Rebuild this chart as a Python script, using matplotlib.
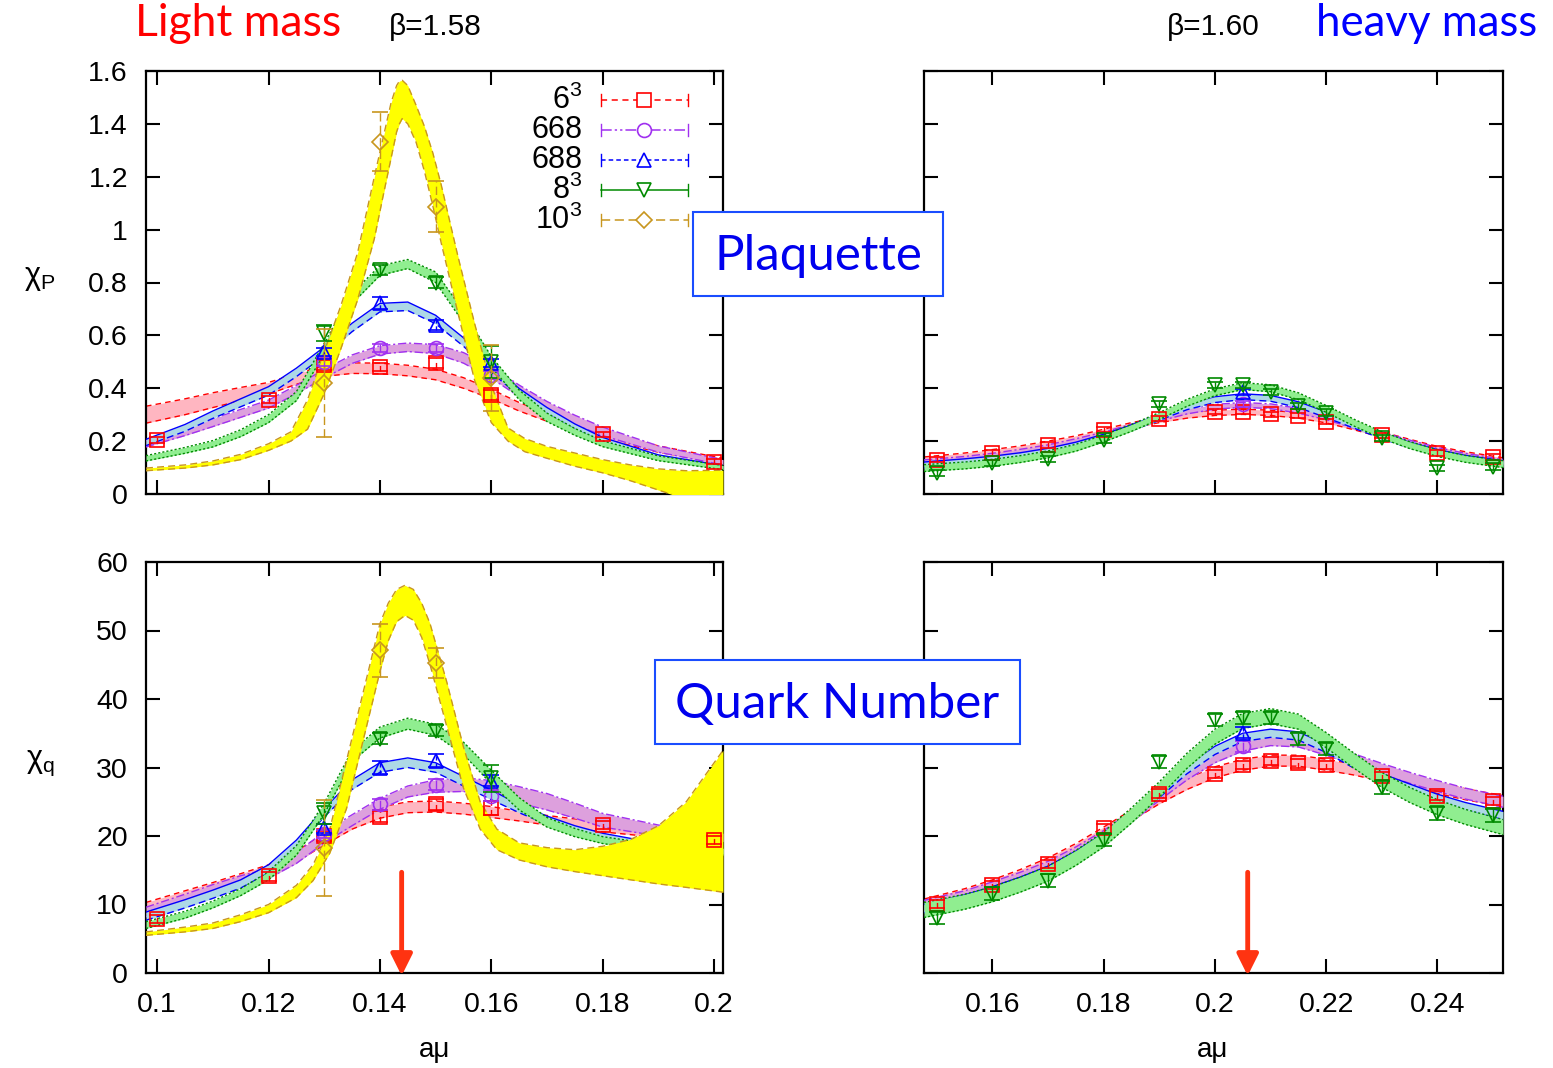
import numpy as np
import matplotlib
matplotlib.use('Agg')
import matplotlib.pyplot as plt
from matplotlib.patches import Rectangle
from matplotlib.ticker import FuncFormatter

plt.rcParams['font.family'] = ['Liberation Sans', 'DejaVu Sans']
plt.rcParams['mathtext.fontset'] = 'custom'
plt.rcParams['mathtext.rm'] = 'Liberation Sans'
plt.rcParams['mathtext.it'] = 'Liberation Sans:italic'
plt.rcParams['mathtext.default'] = 'regular'

# ---------------- data ----------------
series_labels = ['6$^3$', '668', '688', '8$^3$', '10$^3$']

# light mass (beta = 1.58) measured points
xL_all = [0.10, 0.12, 0.13, 0.14, 0.15, 0.16, 0.18, 0.20]
xL_mid = [0.13, 0.14, 0.15, 0.16]
P_L_6 = [0.204, 0.357, 0.488, 0.480, 0.495, 0.374, 0.226, 0.122]
P_L_6_err = [0.012, 0.012, 0.02, 0.015, 0.02, 0.02, 0.01, 0.01]
P_L_668 = [0.50, 0.552, 0.552, 0.45]
P_L_688 = [0.537, 0.722, 0.640, 0.495]
P_L_8 = [0.61, 0.847, 0.800, 0.500]
P_L_8_err = [0.03, 0.02, 0.02, 0.06]
P_L_10 = [0.42, 1.333, 1.087, 0.44]
P_L_10_err = [0.205, 0.113, 0.097, 0.125]

Q_L_6 = [7.9, 14.1, 20.0, 22.8, 24.6, 24.1, 21.6, 19.4]
Q_L_6_err = [0.6, 0.6, 0.8, 0.8, 0.8, 1.0, 0.6, 0.6]
Q_L_668 = [20.3, 24.6, 27.5, 25.9]
Q_L_688 = [21.1, 30.0, 31.0, 28.1]
Q_L_8 = [23.3, 34.2, 35.4, 28.4]
Q_L_8_err = [1.5, 0.8, 0.8, 2.0]
Q_L_10 = [18.2, 47.1, 45.2]
Q_L_10_x = [0.13, 0.14, 0.15]
Q_L_10_err = [7.0, 3.9, 2.2]

# heavy mass (beta = 1.60) measured points
xH_all = [0.15, 0.16, 0.17, 0.18, 0.19, 0.20, 0.205, 0.21, 0.215, 0.22, 0.23, 0.24, 0.25]
xH_one = [0.205]
P_H_6 = [0.130, 0.155, 0.185, 0.243, 0.285, 0.311, 0.311, 0.302, 0.296, 0.273, 0.222, 0.155, 0.140]
P_H_668 = [0.340]
P_H_688 = [0.387]
P_H_8 = [0.079, 0.117, 0.132, 0.206, 0.340, 0.413, 0.413, 0.385, 0.334, 0.308, 0.213, 0.098, 0.104]

Q_H_6 = [10.1, 12.8, 15.9, 21.1, 26.2, 29.1, 30.4, 31.0, 30.6, 30.4, 28.8, 25.9, 25.1]
Q_H_668 = [33.1]
Q_H_688 = [35.1]
Q_H_8 = [8.0, 11.6, 13.5, 19.4, 30.8, 36.9, 37.2, 37.2, 34.2, 32.7, 27.1, 23.3, 23.0]

# fit bands (centre / half-width)
bandL_x = [0.098, 0.105, 0.11, 0.115, 0.12, 0.125, 0.13, 0.135, 0.14, 0.145,
           0.15, 0.155, 0.16, 0.165, 0.17, 0.175, 0.18, 0.19, 0.2016]
bP_L_6 = [0.30, 0.33, 0.355, 0.378, 0.40, 0.435, 0.465, 0.476, 0.475, 0.467,
          0.452, 0.42, 0.378, 0.33, 0.29, 0.255, 0.222, 0.17, 0.125]
wP_L_6 = [0.032, 0.03, 0.028, 0.025, 0.022, 0.02, 0.02, 0.02, 0.02, 0.02,
          0.02, 0.02, 0.018, 0.016, 0.015, 0.014, 0.013, 0.012, 0.01]
bP_L_668 = [0.19, 0.235, 0.27, 0.305, 0.34, 0.395, 0.455, 0.51, 0.545, 0.555,
            0.548, 0.515, 0.46, 0.39, 0.33, 0.28, 0.237, 0.17, 0.12]
wP_L_668 = [0.012, 0.014, 0.015, 0.015, 0.015, 0.016, 0.016, 0.016, 0.016, 0.016,
            0.017, 0.02, 0.022, 0.022, 0.02, 0.018, 0.016, 0.012, 0.01]
bP_L_688 = [0.195, 0.25, 0.30, 0.345, 0.39, 0.46, 0.54, 0.63, 0.705, 0.71,
            0.66, 0.575, 0.475, 0.385, 0.315, 0.255, 0.205, 0.14, 0.10]
wP_L_688 = [0.012, 0.013, 0.014, 0.015, 0.016, 0.016, 0.016, 0.016, 0.016, 0.016,
            0.016, 0.016, 0.015, 0.014, 0.012, 0.01, 0.009, 0.008, 0.007]
bP_L_8 = [0.135, 0.165, 0.19, 0.23, 0.285, 0.37, 0.55, 0.74, 0.845, 0.87,
          0.82, 0.67, 0.50, 0.375, 0.29, 0.235, 0.19, 0.135, 0.10]
wP_L_8 = [0.01, 0.011, 0.012, 0.013, 0.015, 0.017, 0.02, 0.02, 0.018, 0.017,
          0.02, 0.022, 0.02, 0.018, 0.016, 0.013, 0.011, 0.009, 0.008]

yelL_x = [0.098, 0.105, 0.11, 0.115, 0.12, 0.124, 0.127, 0.130, 0.133, 0.136,
          0.139, 0.1405, 0.142, 0.143, 0.1435, 0.144, 0.145, 0.1465, 0.148,
          0.1495, 0.151, 0.154, 0.157, 0.16,
          0.163, 0.166, 0.17, 0.175, 0.18, 0.185, 0.19, 0.195, 0.2016]
yP_L_10_lo = [0.088, 0.098, 0.11, 0.13, 0.165, 0.20, 0.245, 0.38, 0.55, 0.735,
              0.966, 1.12, 1.27, 1.37, 1.40, 1.42, 1.40, 1.33, 1.22,
              1.09, 0.95, 0.685, 0.43, 0.27,
              0.20, 0.16, 0.135, 0.105, 0.08, 0.05, 0.015, -0.02, -0.07]
yP_L_10_hi = [0.098, 0.11, 0.125, 0.15, 0.19, 0.235, 0.356, 0.539, 0.713, 0.913,
              1.20, 1.34, 1.48, 1.545, 1.562, 1.565, 1.545, 1.47, 1.39,
              1.29, 1.17, 0.90, 0.645, 0.41,
              0.25, 0.21, 0.18, 0.155, 0.13, 0.11, 0.095, 0.088, 0.09]

bQ_L_6 = [9.5, 11.2, 12.4, 13.7, 15.0, 17.0, 19.5, 21.8, 23.4, 24.2,
          24.3, 24.0, 23.5, 22.9, 22.3, 21.8, 21.3, 20.5, 19.6]
wQ_L_6 = [0.8, 0.8, 0.8, 0.8, 0.8, 0.8, 0.8, 0.8, 0.8, 0.8,
          0.8, 0.8, 0.8, 0.7, 0.7, 0.7, 0.7, 0.7, 0.7]
bQ_L_668 = [8.9, 10.8, 12.2, 13.5, 14.5, 16.8, 19.8, 22.3, 24.7, 26.5,
            27.3, 27.5, 27.0, 26.0, 25.0, 23.7, 22.3, 20.8, 19.8]
wQ_L_668 = [0.7, 0.7, 0.7, 0.7, 0.7, 0.8, 0.8, 0.8, 0.8, 0.8,
            0.9, 1.0, 1.1, 1.2, 1.2, 1.1, 1.0, 0.8, 0.6]
bQ_L_688 = [8.3, 10.1, 11.5, 13.0, 15.2, 18.8, 23.4, 27.5, 30.0, 30.7,
            30.0, 28.0, 26.0, 24.0, 22.3, 21.0, 19.9, 18.5, 17.8]
wQ_L_688 = [0.6, 0.6, 0.6, 0.6, 0.6, 0.6, 0.6, 0.7, 0.7, 0.7,
            0.7, 0.7, 0.7, 0.6, 0.6, 0.5, 0.5, 0.4, 0.4]
bQ_L_8 = [7.0, 8.5, 10.0, 11.8, 14.2, 17.9, 24.0, 31.7, 35.1, 36.4,
          35.5, 32.8, 28.6, 24.7, 22.0, 20.5, 19.4, 18.2, 17.7]
wQ_L_8 = [0.5, 0.5, 0.5, 0.5, 0.6, 0.7, 0.8, 0.8, 0.8, 0.8,
          0.8, 0.9, 1.0, 0.9, 0.7, 0.6, 0.5, 0.5, 0.5]

yelQ_x = [0.098, 0.105, 0.11, 0.115, 0.12, 0.125, 0.128, 0.131, 0.134, 0.137,
          0.14, 0.1415, 0.143, 0.1445, 0.146, 0.1475, 0.149, 0.152, 0.155, 0.158, 0.161,
          0.165, 0.17, 0.175, 0.18, 0.185, 0.19, 0.195, 0.2016]
yQ_L_10_lo = [5.5, 6.0, 6.5, 7.5, 8.8, 11.0, 13.5, 17.5, 24.0, 34.0,
              44.0, 48.5, 51.3, 52.2, 51.5, 49.0, 45.0, 36.0, 27.0, 21.0, 18.0,
              16.5, 15.5, 14.8, 14.2, 13.6, 13.0, 12.5, 11.8]
yQ_L_10_hi = [6.0, 6.7, 7.3, 8.5, 10.0, 12.8, 15.8, 21.0, 31.0, 41.0,
              51.0, 54.0, 56.0, 56.6, 56.0, 54.0, 51.0, 42.5, 33.0, 25.0, 21.0,
              19.0, 18.3, 18.0, 18.5, 19.5, 21.5, 25.0, 32.5]

bandH_x = [0.1477, 0.155, 0.16, 0.165, 0.17, 0.175, 0.18, 0.185, 0.19, 0.195,
           0.20, 0.205, 0.21, 0.215, 0.22, 0.225, 0.23, 0.235, 0.24, 0.245, 0.2518]
bP_H_6 = [0.13, 0.145, 0.158, 0.172, 0.19, 0.21, 0.235, 0.26, 0.28, 0.297,
          0.307, 0.311, 0.307, 0.297, 0.279, 0.253, 0.225, 0.197, 0.17, 0.15, 0.127]
bP_H_668 = [0.12, 0.133, 0.145, 0.16, 0.177, 0.20, 0.225, 0.255, 0.285, 0.312,
            0.33, 0.337, 0.332, 0.315, 0.29, 0.258, 0.225, 0.195, 0.167, 0.145, 0.122]
bP_H_688 = [0.11, 0.122, 0.132, 0.145, 0.162, 0.185, 0.215, 0.25, 0.29, 0.33,
            0.357, 0.368, 0.362, 0.338, 0.30, 0.26, 0.22, 0.185, 0.157, 0.135, 0.115]
bP_H_8 = [0.098, 0.108, 0.118, 0.132, 0.15, 0.175, 0.21, 0.25, 0.295, 0.345,
          0.385, 0.408, 0.40, 0.37, 0.322, 0.27, 0.223, 0.185, 0.155, 0.133, 0.113]
wP_H = [0.010, 0.009, 0.011, 0.013]

bQ_H_6 = [10.0, 11.5, 12.8, 14.3, 16.0, 18.1, 20.5, 23.0, 25.5, 27.6,
          29.3, 30.4, 31.0, 31.0, 30.4, 29.7, 28.8, 27.9, 27.0, 26.1, 25.1]
bQ_H_668 = [9.8, 11.2, 12.5, 13.9, 15.5, 17.6, 20.0, 22.8, 26.0, 29.0,
            31.5, 33.2, 34.0, 33.8, 32.6, 31.2, 29.8, 28.5, 27.3, 26.2, 25.0]
bQ_H_688 = [9.4, 10.8, 12.0, 13.4, 15.0, 17.2, 19.8, 22.8, 26.2, 29.7,
            32.5, 34.4, 35.0, 34.6, 32.8, 30.5, 28.5, 27.0, 25.5, 24.3, 23.0]
bQ_H_8 = [9.2, 10.4, 11.5, 12.9, 14.5, 16.8, 19.5, 23.0, 26.8, 31.0,
          34.5, 36.8, 37.5, 36.7, 34.0, 31.0, 28.2, 26.0, 24.2, 22.8, 21.3]
wQ_H = [0.8, 0.8, 0.6, 1.1]

mu_c_light = 0.1439
mu_c_heavy = 0.2059
arrow_top = 14.7

# ---------------- styles ----------------
line_cols = ['#ff0000', '#a030f0', '#0000ff', '#008a00', '#c8961e']
face_cols = ['#ffb6c1', '#dda0dd', '#add8e6', '#90ee90', '#ffff00']
markers = ['s', 'o', '^', 'v', 'D']
msizes = [10, 10, 10, 10, 8]
lstyles = [(0, (4, 3)), (0, (7, 2, 1.5, 2, 1.5, 2)), (0, (3, 2)), '-', (0, (6, 3))]
edge_styles = [((0, (4, 3)), (0, (4, 3))),
               ((0, (6, 2, 1.5, 2)), (0, (6, 2, 1.5, 2))),
               ('-', (0, (5, 3))),
               ((0, (1.5, 1.5)), (0, (1.5, 1.5))),
               ((0, (5, 3)), (0, (5, 3)))]

fig = plt.figure(figsize=(15.53, 10.68), dpi=100)
W, H = 1553.0, 1068.0


def ax_at(x0, y0, x1, y1):
    return fig.add_axes([x0 / W, 1 - y1 / H, (x1 - x0) / W, (y1 - y0) / H])


axTL = ax_at(146, 71, 723, 494)
axBL = ax_at(146, 562, 723, 973)
axTR = ax_at(924, 71, 1503, 494)
axBR = ax_at(924, 562, 1503, 973)


def band(ax, x, lo, hi, i, z):
    x = np.asarray(x)
    lo = np.asarray(lo, float)
    hi = np.asarray(hi, float)
    ax.fill_between(x, lo, hi, color=face_cols[i], lw=0, zorder=z)
    ax.plot(x, hi, color=line_cols[i], ls=edge_styles[i][0], lw=1.0, zorder=z + 0.1)
    ax.plot(x, lo, color=line_cols[i], ls=edge_styles[i][1], lw=1.0, zorder=z + 0.1)


def band_cw(ax, x, c, w, i, z):
    c = np.asarray(c, float)
    w = np.asarray(w, float) * np.ones_like(c)
    band(ax, x, c - w, c + w, i, z)


def pts(ax, x, y, i, err=None):
    if err is None:
        err = [abs(v) * 0.03 for v in y]
    eb = ax.errorbar(x, y, yerr=err, fmt=markers[i], ms=msizes[i], mfc='none',
                     mec=line_cols[i], mew=1.2, ecolor=line_cols[i], elinewidth=1.0,
                     capsize=6, capthick=1.0, ls='none', zorder=10 + i)
    for l in eb[2]:
        l.set_linestyle(lstyles[i] if i != 3 else '-')


# ---- top left (plaquette, light) ----
band_cw(axTL, bandL_x, bP_L_6, wP_L_6, 0, 2)
band_cw(axTL, bandL_x, bP_L_668, wP_L_668, 1, 3)
band_cw(axTL, bandL_x, bP_L_688, wP_L_688, 2, 4)
band_cw(axTL, bandL_x, bP_L_8, wP_L_8, 3, 5)
band(axTL, yelL_x, yP_L_10_lo, yP_L_10_hi, 4, 6)
pts(axTL, xL_all, P_L_6, 0, P_L_6_err)
pts(axTL, xL_mid, P_L_668, 1)
pts(axTL, xL_mid, P_L_688, 2)
pts(axTL, xL_mid, P_L_8, 3, P_L_8_err)
pts(axTL, xL_mid, P_L_10, 4, P_L_10_err)

# ---- bottom left (quark number, light) ----
band_cw(axBL, bandL_x, bQ_L_6, wQ_L_6, 0, 2)
band_cw(axBL, bandL_x, bQ_L_668, wQ_L_668, 1, 3)
band_cw(axBL, bandL_x, bQ_L_688, wQ_L_688, 2, 4)
band_cw(axBL, bandL_x, bQ_L_8, wQ_L_8, 3, 5)
band(axBL, yelQ_x, yQ_L_10_lo, yQ_L_10_hi, 4, 6)
pts(axBL, xL_all, Q_L_6, 0, Q_L_6_err)
pts(axBL, xL_mid, Q_L_668, 1)
pts(axBL, xL_mid, Q_L_688, 2)
pts(axBL, xL_mid, Q_L_8, 3, Q_L_8_err)
pts(axBL, Q_L_10_x, Q_L_10, 4, Q_L_10_err)

# ---- top right (plaquette, heavy) ----
for i, c in enumerate([bP_H_6, bP_H_668, bP_H_688, bP_H_8]):
    band_cw(axTR, bandH_x, c, wP_H[i], i, 2 + i)
pts(axTR, xH_all, P_H_8, 3, [0.012] * len(P_H_8))
pts(axTR, xH_one, P_H_668, 1, [0.012])
pts(axTR, xH_one, P_H_688, 2, [0.012])
pts(axTR, xH_all, P_H_6, 0, [0.01] * len(P_H_6))

# ---- bottom right (quark number, heavy) ----
for i, c in enumerate([bQ_H_6, bQ_H_668, bQ_H_688, bQ_H_8]):
    band_cw(axBR, bandH_x, c, wQ_H[i], i, 2 + i)
pts(axBR, xH_all, Q_H_8, 3, [0.9] * len(Q_H_8))
pts(axBR, xH_one, Q_H_668, 1, [0.8])
pts(axBR, xH_one, Q_H_688, 2, [0.8])
pts(axBR, xH_all, Q_H_6, 0, [0.6] * len(Q_H_6))

# ---------------- axes formatting ----------------
fmt = FuncFormatter(lambda v, p: '%g' % round(v, 6))
for ax in (axTL, axBL, axTR, axBR):
    ax.tick_params(direction='in', length=10, width=1.5, which='major',
                   top=True, right=True, labelsize=20.5)
    ax.tick_params(axis='x', pad=14)
    ax.tick_params(axis='y', pad=13)
    for s in ax.spines.values():
        s.set_linewidth(1.6)
    ax.xaxis.set_major_formatter(fmt)
    ax.yaxis.set_major_formatter(fmt)

for ax in (axTL, axBL):
    ax.set_xlim(0.098, 0.2016)
    ax.set_xticks([0.10, 0.12, 0.14, 0.16, 0.18, 0.20])
for ax in (axTR, axBR):
    ax.set_xlim(0.1477, 0.2518)
    ax.set_xticks([0.16, 0.18, 0.20, 0.22, 0.24])
for ax in (axTL, axTR):
    ax.set_ylim(0, 1.6)
    ax.set_yticks(np.arange(0, 1.61, 0.2))
    ax.tick_params(labelbottom=False)
for ax in (axBL, axBR):
    ax.set_ylim(0, 60)
    ax.set_yticks(np.arange(0, 61, 10))
for ax in (axTR, axBR):
    ax.tick_params(labelleft=False)

# arrows
for ax, mu in ((axBL, mu_c_light), (axBR, mu_c_heavy)):
    ax.annotate('', xy=(mu, -0.4), xytext=(mu, arrow_top),
                arrowprops=dict(arrowstyle='-|>', color='#ff3311', lw=3.5,
                                mutation_scale=32, shrinkA=0, shrinkB=0),
                annotation_clip=False, zorder=20)

# legend (gnuplot style, inside top-left panel)
leg_rows = [0.931, 0.861, 0.790, 0.719, 0.648]
for i, yr in enumerate(leg_rows):
    axTL.text(0.756, yr, series_labels[i], transform=axTL.transAxes,
              ha='right', va='center', fontsize=22, zorder=30)
    axTL.plot([0.789, 0.939], [yr, yr], transform=axTL.transAxes,
              color=line_cols[i], ls=lstyles[i], lw=1.1, zorder=30)
    for xc in (0.789, 0.939):
        axTL.plot([xc, xc], [yr - 0.014, yr + 0.014], transform=axTL.transAxes,
                  color=line_cols[i], lw=1.0, zorder=30)
    axTL.plot([0.863], [yr], transform=axTL.transAxes, marker=markers[i],
              ms=msizes[i], mfc='white', mec=line_cols[i], mew=1.2, zorder=31)

# figure texts
def ftext(x, y, s, **kw):
    fig.text(x / W, 1 - y / H, s, **kw)

ftext(135, 24, 'Light mass', color='#ff0000', fontsize=32, family='Lato',
      ha='left', va='center')
ftext(1537, 24, 'heavy mass', color='#0000ff', fontsize=31.5, family='Lato',
      ha='right', va='center')
ftext(435, 27, 'β=1.58', fontsize=21.5, ha='center', va='center')
ftext(1213, 27, 'β=1.60', fontsize=21.5, ha='center', va='center')
ftext(40, 278, r'$\chi_P$', fontsize=22, ha='center', va='center')
ftext(40, 763, r'$\chi_q$', fontsize=22, ha='center', va='center')
ftext(435, 1050, 'aμ', fontsize=20, ha='center', va='center')
ftext(1213, 1050, 'aμ', fontsize=20, ha='center', va='center')

for (x0, y0, x1, y1, s) in ((693, 212, 943, 296, 'Plaquette'),
                            (655, 660, 1020, 744, 'Quark Number')):
    fig.patches.append(Rectangle((x0 / W, 1 - y1 / H), (x1 - x0) / W, (y1 - y0) / H,
                                 transform=fig.transFigure, facecolor='white',
                                 edgecolor='#1a4dff', lw=1.5, zorder=40))
    ftext((x0 + x1) / 2, (y0 + y1) / 2 + 2, s, color='#0000ee', fontsize=35.5,
          family='Lato', ha='center', va='center', zorder=41)

fig.savefig('out.png', dpi=100)
